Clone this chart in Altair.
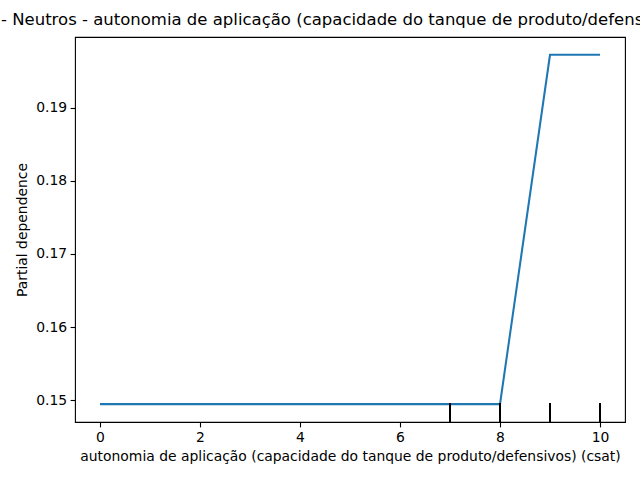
import altair as alt
import pandas as pd

grid_x = [0, 1, 2, 3, 4, 5, 6, 7, 8, 9, 10]
pd_values = [0.14945, 0.14945, 0.14945, 0.14945, 0.14945, 0.14945, 0.14945, 0.14945, 0.14945, 0.19726, 0.19726]
deciles = [7, 8, 9, 10]
x_ticks = [0, 2, 4, 6, 8, 10]
y_ticks = [0.15, 0.16, 0.17, 0.18, 0.19]

title_text = "- Neutros - autonomia de aplicação (capacidade do tanque de produto/defensivos) (csat)"
x_title = "autonomia de aplicação (capacidade do tanque de produto/defensivos) (csat)"
y_title = "Partial dependence"

W, H = 550, 385
FONT = "DejaVu Sans"

line_df = pd.DataFrame({"x": grid_x, "y": pd_values})
rug_df = pd.DataFrame({"x": deciles})

xscale = alt.Scale(domain=[-0.5, 10.5], nice=False, zero=False)
yscale = alt.Scale(domain=[0.1470, 0.1997], nice=False, zero=False)

axis_common = dict(
    labelFont=FONT, labelFontSize=13.9, labelColor="black",
    titleFont=FONT, titleFontSize=13.9, titleColor="black", titleFontWeight="normal",
    tickColor="black", tickSize=4.9, tickWidth=1.1, labelPadding=3.5,
    domain=False, grid=False,
)

line = alt.Chart(line_df).mark_line(color="#1f77b4", strokeWidth=2.08).encode(
    x=alt.X("x:Q", scale=xscale,
            axis=alt.Axis(values=x_ticks, format="d", title=x_title, titlePadding=5, **axis_common)),
    y=alt.Y("y:Q", scale=yscale,
            axis=alt.Axis(values=y_ticks, format=".2f", title=y_title, titlePadding=6, **axis_common)),
)

rug = alt.Chart(rug_df).mark_rule(color="black", strokeWidth=2).encode(
    x=alt.X("x:Q", scale=xscale),
    y=alt.value(H),
    y2=alt.value(H - 19),
)

title_df = pd.DataFrame({"t": [title_text]})
title = alt.Chart(title_df).mark_text(
    font=FONT, fontSize=16.5, color="black", align="left", baseline="alphabetic"
).encode(
    text="t:N",
    x=alt.value(-74),
    y=alt.value(-12),
)

chart = alt.layer(line, rug, title).properties(
    width=W, height=H,
    autosize=alt.AutoSizeParams(type="none"),
    padding={"left": 75, "top": 37, "right": 15, "bottom": 58},
    background="white",
).configure_view(stroke="black", strokeWidth=1.1)

chart.save("out.html", embed_options={"renderer": "svg", "actions": False})
